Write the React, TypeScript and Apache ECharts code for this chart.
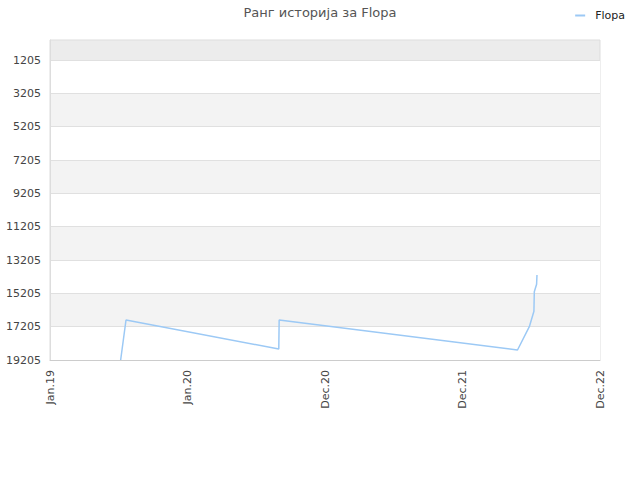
import React, { useEffect, useRef } from 'react';
import * as echarts from 'echarts';

// rank history
const dates = [
  '2019-07-14',
  '2019-07-28',
  '2020-08-31',
  '2020-09-01',
  '2022-05-18',
  '2022-06-18',
  '2022-06-30',
  '2022-07-01',
  '2022-07-07',
  '2022-07-08',
];
const ranks = [19205, 16805, 18545, 16805, 18605, 17205, 16285, 15105, 14665, 14105];

const rankTicks = [1205, 3205, 5205, 7205, 9205, 11205, 13205, 15205, 17205, 19205];
const monthNames = ['Jan', 'Feb', 'Mar', 'Apr', 'May', 'Jun', 'Jul', 'Aug', 'Sep', 'Oct', 'Nov', 'Dec'];

const baseDate = Date.UTC(2019, 0, 10);
const dayMs = 86400000;

function dayOffset(d: string): number {
  const [y, m, dd] = d.split('-').map(Number);
  return (Date.UTC(y, m - 1, dd) - baseDate) / dayMs;
}

function dayLabel(v: number): string {
  const d = new Date(baseDate + v * dayMs);
  return monthNames[d.getUTCMonth()] + '.' + String(d.getUTCFullYear()).slice(2);
}

const font = 'DejaVu Sans, sans-serif';

export default function App() {
  const ref = useRef<HTMLDivElement | null>(null);

  useEffect(() => {
    if (!ref.current) return undefined;
    document.body.style.margin = '0';
    const chart = echarts.init(ref.current, undefined, { renderer: 'svg' });
    chart.setOption({
      animation: false,
      title: {
        text: 'Ранг историја за Flopa',
        left: 'center',
        top: 1,
        textStyle: { fontFamily: font, fontSize: 13, fontWeight: 'normal', color: '#555' },
      },
      legend: {
        right: 10,
        top: 5,
        itemWidth: 10,
        itemHeight: 2,
        itemGap: 10,
        textStyle: { fontFamily: font, fontSize: 11, color: '#222', padding: [0, 0, 0, 5] },
        data: [{ name: 'Flopa', icon: 'rect' }],
      },
      grid: {
        left: 50,
        right: 40,
        top: 40,
        bottom: 120,
        show: true,
        backgroundColor: '#ececec',
        borderColor: '#dddddd',
        borderWidth: 1,
      },
      xAxis: {
        type: 'value',
        min: 0,
        max: 1440,
        interval: 360,
        axisLine: { show: true, lineStyle: { color: '#cccccc' } },
        axisTick: { show: false },
        splitLine: { show: false },
        axisLabel: {
          rotate: 90,
          margin: 10,
          fontFamily: font,
          fontSize: 11,
          color: '#444',
          formatter: (v: number) => dayLabel(v),
        },
      },
      yAxis: {
        type: 'value',
        inverse: true,
        min: 5,
        max: 19205,
        axisLine: { show: true, lineStyle: { color: '#dddddd' } },
        axisTick: { show: false, customValues: rankTicks },
        axisLabel: {
          customValues: rankTicks,
          margin: 9,
          fontFamily: font,
          fontSize: 11,
          color: '#444',
          formatter: (v: number) => String(v),
        },
        splitLine: { show: true, lineStyle: { color: '#e0e0e0' } },
        splitArea: { show: true, areaStyle: { color: ['#ffffff', '#f3f3f3'] } },
      },
      series: [
        {
          name: 'Flopa',
          type: 'line',
          data: dates.map((d, i) => [dayOffset(d), ranks[i]]),
          symbol: 'none',
          showSymbol: false,
          lineStyle: { color: '#9cc9f5', width: 1.5 },
          itemStyle: { color: '#9cc9f5' },
        },
      ],
    });
    return () => chart.dispose();
  }, []);

  return <div ref={ref} style={{ width: 640, height: 480 }} />;
}
